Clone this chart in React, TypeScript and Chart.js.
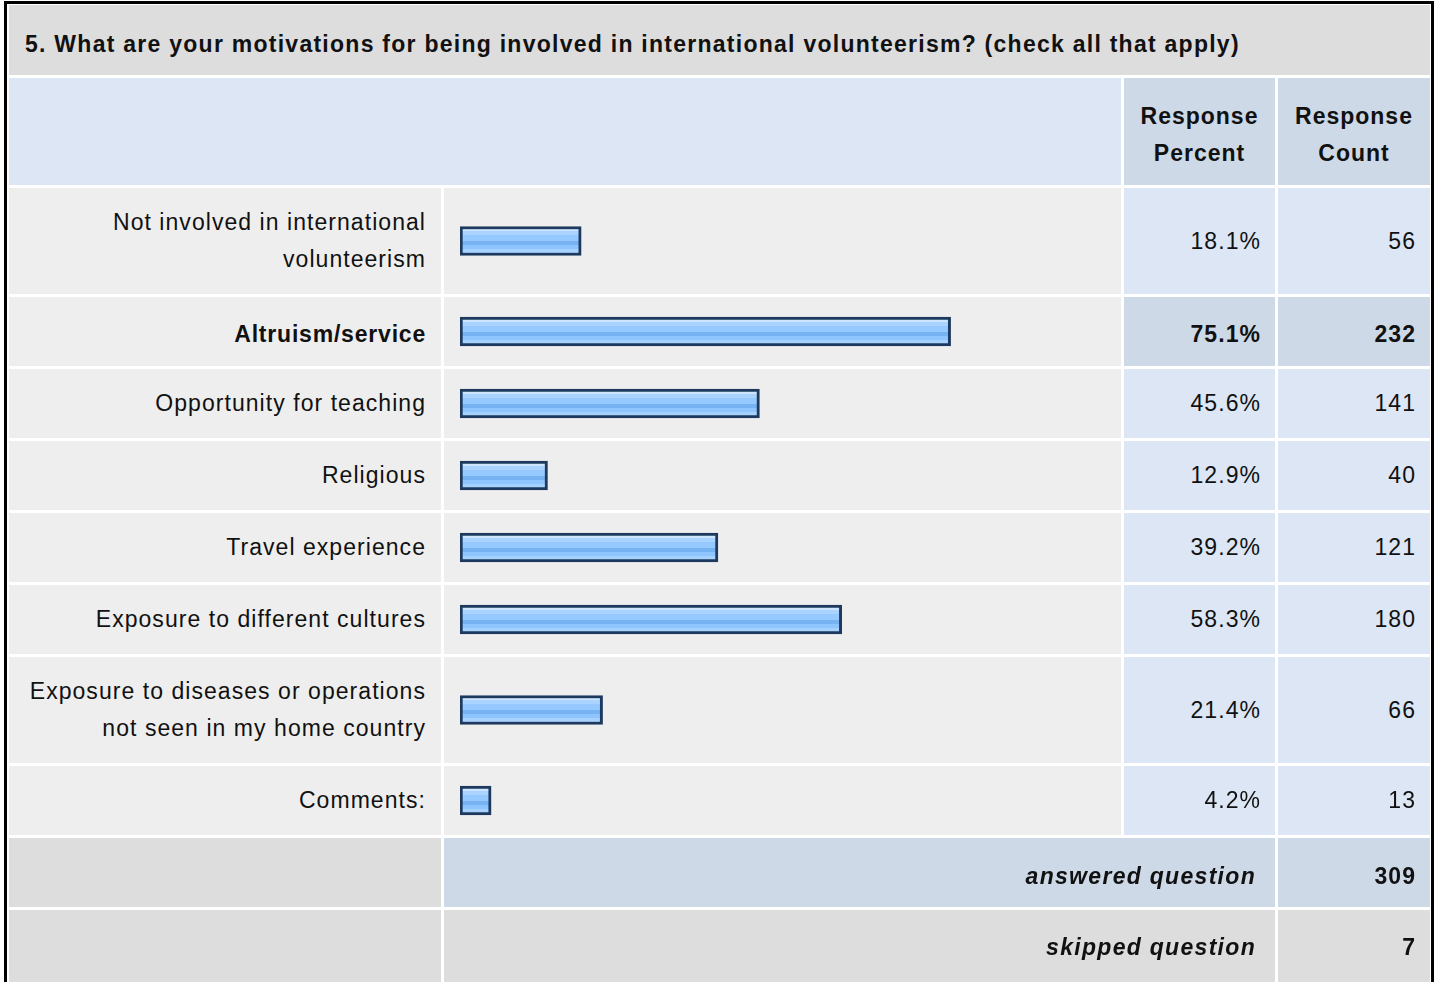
import React, { useEffect, useRef } from "react";
import { Chart, registerables } from "chart.js";

Chart.register(...registerables);

const questionTitle =
  "5. What are your motivations for being involved in international volunteerism? (check all that apply)";
const categories = [
  "Not involved in international volunteerism",
  "Altruism/service",
  "Opportunity for teaching",
  "Religious",
  "Travel experience",
  "Exposure to different cultures",
  "Exposure to diseases or operations not seen in my home country",
  "Comments:",
];
const responsePercent = [18.1, 75.1, 45.6, 12.9, 39.2, 58.3, 21.4, 4.2];
const responseCount = [56, 232, 141, 40, 121, 180, 66, 13];
const twoLineRows = [true, false, false, false, false, false, true, false];
const highlightedIndex = 1;
const answeredQuestion = 309;
const skippedQuestion = 7;
const axisMin = -0.6;
const axisMax = 100;

const FONT = '"Liberation Sans", Arial, Helvetica, sans-serif';
const GRAY = "#dddddd";
const LIGHT = "#eeeeee";
const BLUE = "#dce6f4";
const BLUE_DARK = "#cdd9e6";
const BAR_COL_W = 677;

function barGradient(c: any) {
  const chart = c.chart;
  const area = chart.chartArea;
  if (!area) return "#93c6ff";
  const mid = (area.top + area.bottom) / 2;
  const g = chart.ctx.createLinearGradient(0, mid - 14.5, 0, mid + 14.5);
  const stops: [number, string][] = [
    [0.0, "#cde5ff"],
    [0.16, "#cde5ff"],
    [0.16, "#aad3ff"],
    [0.3, "#aad3ff"],
    [0.3, "#95c9ff"],
    [0.5, "#95c9ff"],
    [0.5, "#77b3f2"],
    [0.64, "#77b3f2"],
    [0.64, "#8ec5ff"],
    [0.78, "#8ec5ff"],
    [0.78, "#a7d2ff"],
    [1.0, "#a7d2ff"],
  ];
  stops.forEach(([p, col]) => g.addColorStop(p, col));
  return g;
}

function BarCell({ value, height }: { value: number; height: number }) {
  const ref = useRef<HTMLCanvasElement>(null);
  useEffect(() => {
    if (!ref.current) return;
    const chart = new Chart(ref.current, {
      type: "bar",
      data: {
        labels: [""],
        datasets: [
          {
            data: [value],
            base: axisMin,
            barThickness: 29,
            borderWidth: 3,
            borderColor: "#1d3a5e",
            borderSkipped: false,
            backgroundColor: barGradient,
          } as any,
        ],
      },
      options: {
        indexAxis: "y",
        animation: false,
        responsive: false,
        events: [],
        layout: { padding: { left: 16, right: 9, top: 0, bottom: 0 } },
        plugins: { legend: { display: false }, tooltip: { enabled: false } },
        scales: {
          x: { display: false, min: axisMin, max: axisMax },
          y: { display: false },
        },
      },
    });
    return () => chart.destroy();
  }, [value, height]);
  return (
    <canvas
      ref={ref}
      width={BAR_COL_W}
      height={height}
      style={{ display: "block", width: BAR_COL_W, height }}
    />
  );
}

const textBase: React.CSSProperties = {
  fontFamily: FONT,
  fontSize: 23,
  letterSpacing: "1.05px",
  lineHeight: "37px",
  color: "#111",
  display: "flex",
  alignItems: "center",
  boxSizing: "border-box",
};

const boldShift: React.CSSProperties = { paddingTop: 6 };

export default function App() {
  const rowHeights = twoLineRows.map((t) => (t ? 106 : 69));
  const gridRows = ["70px", "107px", ...rowHeights.map((h) => h + "px"), "69px", "90px"].join(" ");

  const cells: React.ReactNode[] = [];
  cells.push(
    <div
      key="title"
      style={{
        ...textBase,
        gridColumn: "1 / span 4",
        background: GRAY,
        fontWeight: "bold",
        letterSpacing: "1.26px",
        paddingLeft: 16,
        paddingTop: 8,
      }}
    >
      {questionTitle}
    </div>
  );
  cells.push(<div key="h0" style={{ gridColumn: "1 / span 2", background: BLUE }} />);
  ["Response Percent", "Response Count"].forEach((h, i) =>
    cells.push(
      <div
        key={"h" + (i + 1)}
        style={{
          ...textBase,
          ...boldShift,
          background: BLUE_DARK,
          fontWeight: "bold",
          letterSpacing: "1px",
          justifyContent: "center",
          textAlign: "center",
          paddingLeft: 6,
          paddingRight: 6,
        }}
      >
        {h}
      </div>
    )
  );
  categories.forEach((cat, i) => {
    const hi = i === highlightedIndex;
    const weight = hi ? "bold" : "normal";
    const shift = hi ? boldShift : {};
    cells.push(
      <div
        key={"l" + i}
        style={{
          ...textBase,
          ...shift,
          background: LIGHT,
          fontWeight: weight,
          letterSpacing: hi ? "0.8px" : textBase.letterSpacing,
          justifyContent: "flex-end",
          textAlign: "right",
          paddingLeft: 17,
          paddingRight: 15,
        }}
      >
        {cat}
      </div>
    );
    cells.push(
      <div key={"b" + i} style={{ background: LIGHT, overflow: "hidden" }}>
        <BarCell value={responsePercent[i]} height={rowHeights[i]} />
      </div>
    );
    cells.push(
      <div
        key={"p" + i}
        style={{
          ...textBase,
          ...shift,
          background: hi ? BLUE_DARK : BLUE,
          fontWeight: weight,
          justifyContent: "flex-end",
          paddingRight: 14,
        }}
      >
        {responsePercent[i].toFixed(1) + "%"}
      </div>
    );
    cells.push(
      <div
        key={"c" + i}
        style={{
          ...textBase,
          ...shift,
          background: hi ? BLUE_DARK : BLUE,
          fontWeight: weight,
          justifyContent: "flex-end",
          paddingRight: 14,
        }}
      >
        {responseCount[i]}
      </div>
    );
  });
  const summary: [string, number, string][] = [
    ["answered question", answeredQuestion, BLUE_DARK],
    ["skipped question", skippedQuestion, GRAY],
  ];
  summary.forEach(([label, val, bg], i) => {
    cells.push(<div key={"s0" + i} style={{ background: GRAY }} />);
    const textAlignBlock: React.CSSProperties =
      i === 1 ? { alignItems: "flex-start", paddingTop: 19 } : { paddingTop: 7 };
    cells.push(
      <div
        key={"s1" + i}
        style={{
          ...textBase,
          ...textAlignBlock,
          gridColumn: "2 / span 2",
          background: bg,
          fontWeight: "bold",
          fontStyle: "italic",
          letterSpacing: "1.3px",
          justifyContent: "flex-end",
          paddingRight: 19,
        }}
      >
        {label}
      </div>
    );
    cells.push(
      <div
        key={"s2" + i}
        style={{
          ...textBase,
          ...textAlignBlock,
          background: bg,
          fontWeight: "bold",
          justifyContent: "flex-end",
          paddingRight: 14,
        }}
      >
        {val}
      </div>
    );
  });

  return (
    <div style={{ position: "fixed", inset: 0, overflow: "hidden", background: "#fff" }}>
      <div
        style={{
          position: "absolute",
          left: 4,
          top: 1,
          border: "3px solid #000",
          background: "#fff",
          padding: "1px 1px 0 2px",
        }}
      >
        <div
          style={{
            display: "grid",
            gridTemplateColumns: `432px ${BAR_COL_W}px 151px 152px`,
            gridTemplateRows: gridRows,
            gap: 3,
          }}
        >
          {cells}
        </div>
      </div>
    </div>
  );
}
